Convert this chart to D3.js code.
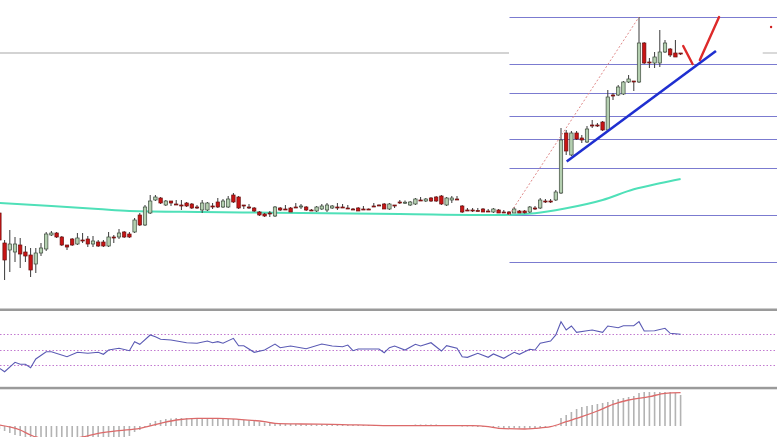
<!DOCTYPE html>
<html><head><meta charset="utf-8">
<script src="https://cdn.jsdelivr.net/npm/d3@7"></script>
<style>html,body{margin:0;padding:0;background:#fff;overflow:hidden}</style>
</head><body>
<svg id="c" width="777" height="437"></svg>
<script>
// ---- candle data (price units) ----
const opens=[300.4,294.4,293.0,292.6,294.0,292.6,292.0,290.2,292.4,293.2,
296.0,296.4,295.6,294.0,295.2,294.2,295.0,295.2,294.2,294.6,
294.6,293.8,295.6,295.6,296.6,296.2,296.6,300.0,298.0,300.4,
303.0,303.4,302.0,302.8,302.2,302.0,302.4,302.2,301.6,301.0,
301.0,301.8,302.6,301.6,301.6,304.0,303.6,302.0,301.6,301.4,
300.6,300.2,300.4,299.8,301.4,301.2,301.4,301.6,301.6,301.6,
301.0,300.8,301.2,301.0,301.4,301.6,301.6,301.4,301.2,301.4,
301.2,301.2,301.8,302.0,302.2,301.2,302.0,302.6,302.5,302.0,
302.2,303.0,302.8,303.4,303.6,303.8,302.0,303.0,303.2,301.8,
301.0,301.0,300.9,301.2,300.8,300.6,301.0,300.6,300.6,300.4,
300.8,300.8,300.6,301.4,301.4,302.8,302.8,303.0,304.4,316.4,
312.0,316.4,315.4,314.6,318.0,318.0,318.6,317.0,324.0,324.0,
324.2,326.6,326.8,326.6,334.4,330.6,330.4,330.4,332.6,333.2,
332.4,332.4];
const highs=[301.4,295.0,297.0,295.6,295.4,293.8,293.4,293.4,294.4,296.6,
296.8,296.6,295.8,294.0,295.4,296.4,296.4,295.8,295.8,295.0,
295.0,296.6,296.0,297.2,296.8,296.6,299.4,300.4,302.0,304.0,
304.0,303.6,303.0,302.8,303.0,303.0,302.6,302.4,302.0,303.0,
302.6,302.4,303.4,303.2,303.8,304.4,303.8,302.0,302.2,301.6,
300.8,300.4,300.8,301.8,301.6,302.0,301.6,302.4,302.2,301.8,
301.2,301.8,302.2,302.4,302.0,302.4,302.2,302.0,301.4,301.6,
301.8,301.3,302.4,302.1,302.4,302.4,302.0,303.0,302.9,302.8,
303.4,303.6,303.4,303.6,303.8,304.0,303.6,303.8,303.8,302.0,
301.4,301.4,301.4,301.4,301.2,301.4,301.2,301.0,300.8,301.6,
301.0,301.0,301.8,301.8,303.4,303.2,303.2,305.0,317.4,317.0,
316.8,316.8,316.0,317.8,319.0,318.4,318.8,325.0,324.4,326.0,
326.8,328.0,326.8,339.6,334.6,331.4,332.6,337.0,335.0,333.4,
335.0,332.4];
const lows=[294.4,287.0,288.6,290.6,289.4,290.6,287.6,288.4,291.8,292.8,
295.8,295.4,293.8,293.0,293.8,294.0,294.4,293.6,293.6,293.6,
293.6,293.6,294.4,295.2,295.4,295.4,296.4,297.8,297.8,300.2,
302.8,302.2,301.8,301.8,302.0,301.0,301.6,301.2,301.2,300.4,
300.8,301.2,301.4,301.4,301.4,302.4,301.2,301.2,301.2,300.6,
299.8,299.6,299.6,299.6,300.8,301.0,300.6,301.4,301.2,300.8,
300.8,300.6,301.0,300.6,301.2,301.0,301.4,301.2,301.0,300.8,
301.0,301.1,301.6,301.9,301.2,301.0,301.4,302.2,302.2,301.8,
302.0,302.8,302.6,302.6,302.6,302.0,301.8,302.4,303.0,300.4,
300.8,300.6,300.8,300.6,300.6,300.4,300.4,300.4,300.0,300.4,
300.4,300.3,300.4,301.0,301.2,302.4,302.4,302.8,304.2,312.0,
311.8,315.0,314.4,314.4,317.4,317.6,316.8,316.8,323.0,323.8,
324.0,326.4,324.8,326.4,330.2,329.4,329.4,329.6,332.4,331.6,
331.6,332.0];
const closes=[295.0,291.0,294.2,294.2,292.2,291.8,289.0,292.4,293.4,296.2,
296.4,295.6,294.0,293.6,294.0,295.4,294.9,294.2,294.8,293.8,
293.8,295.6,295.5,296.4,295.6,295.6,299.0,298.0,301.6,302.8,
303.6,302.4,302.8,302.4,302.1,301.9,301.8,301.4,301.5,302.4,
302.4,301.7,301.6,302.8,303.2,302.6,301.4,301.8,301.5,300.8,
300.0,299.8,300.2,301.6,301.0,301.1,300.6,301.5,301.8,301.0,
300.94,301.6,301.8,302.0,301.8,301.52,301.5,301.32,301.14,300.8,
301.12,301.14,301.72,301.94,301.2,302.2,301.8,302.54,302.56,302.6,
303.2,302.92,303.2,302.8,302.8,302.2,303.4,303.4,303.12,300.6,
300.92,300.92,300.84,300.6,300.72,301.2,300.4,300.5,300.2,301.2,
300.4,300.44,301.6,301.32,303.0,302.72,302.74,304.6,315.0,312.8,
316.4,315.2,315.0,317.2,317.9,317.9,317.0,323.6,323.9,325.6,
326.6,327.2,326.7,334.4,330.4,330.5,331.6,332.6,334.4,332.0,
331.6,332.2];

// moving average (teal) readings: candle index / value
const maIdx=[0,10,19,25,39,48,58,77,96,103,109,116,122,127,131];
const maVal=[302.4,301.8,301.2,300.8,300.6,300.5,300.4,300.2,300.0,300.34,301.34,303.0,305.14,306.34,307.2];

// Fibonacci retracement
const fibHigh=339.6, fibLow=300.0, fibLowIdx=98, fibHighIdx=123;
const fibRatios=[0,0.236,0.382,0.5,0.618,0.764,1,1.236];
const refLevel=332.4; // grey horizontal line

// drawn trend line and arrow
const trendIdx=[109.1,137.8], trendVal=[310.7,332.8];
const arrow1Idx=[131.5,133.3], arrow1Val=[333.8,330.2];
const arrow2Idx=[134.7,138.4], arrow2Val=[331.0,339.6];
const dotIdx=148.4, dotVal=337.6;

// RSI readings
const rsiIdx=[0,1,3,4,5,6,7,9,10,13,15,17,19,20,21,23,25,26,27,29,30,31,33,36,38,40,41,42,43,45,46,47,49,51,53,54,56,59,62,64,66,67,68,69,73,74,75,76,78,80,81,83,85,86,88,89,90,92,94,95,97,99,100,102,103,104,106,107,108,109,110,111,113,114,116,117,119,120,122,123,124,126,128,129,131];
const rsiVal=[25.3,20.8,33.2,30.5,30.5,26,37.5,47.1,47.1,40.5,46.3,45,46.3,43.7,49.3,51.6,48.4,60.3,56.8,69.1,66.8,63.4,62.5,58.9,58.2,61.2,58.9,60.3,58.2,64.7,55,55,46.3,49.3,57.2,52.4,54.6,51,57.2,54.6,53.7,55.9,48.4,50.7,50.7,45.8,52.4,54.6,49.3,56.8,54.6,58.9,48,55,51.6,40.5,39.7,45,39.7,44.1,38.4,46.3,43.7,50.3,49.3,58.2,61.2,69.1,86.6,75.7,80.9,72.6,74.7,75.7,72.6,80.9,78.7,81.3,81.3,86.6,74.3,74.7,77.9,71.3,70];
const rsiLevels=[70,50,30];

// MACD histogram (one per candle) and signal readings
const macdHist=[-0.3,-0.5,-0.7,-0.9,-1.0,-1.1,-1.3,-1.4,-1.4,-1.3,-1.3,-1.3,-1.3,-1.3,-1.3,-1.2,-1.2,-1.2,-1.2,-1.2,-1.2,-1.2,-1.1,-1.1,-1.1,-1.0,
-0.6,-0.4,-0.1,0.3,0.5,0.6,0.7,0.75,0.8,0.8,0.8,0.8,0.8,0.8,0.8,0.75,0.75,0.7,0.7,0.7,0.65,0.6,0.55,0.5,0.4,0.35,0.3,0.3,0.25,
0.2,0.2,0.2,0.15,0.15,0.15,0.15,0.15,0.15,0.15,0.15,0.1,0.1,0.1,0.1,0.1,0.1,0.1,0.1,0.1,0.1,0.1,0.1,0.1,0.1,0.15,0.15,0.15,0.15,0.15,0.1,0.1,0.1,0.1,
0.0,-0.05,-0.05,-0.1,-0.1,-0.1,-0.15,-0.15,-0.2,-0.2,-0.2,-0.25,-0.25,-0.25,-0.2,-0.2,-0.15,-0.1,0.0,
0.8,1.1,1.4,1.7,1.9,2.0,2.1,2.2,2.3,2.4,2.6,2.7,2.8,2.9,3.0,3.3,3.4,3.4,3.4,3.4,3.4,3.4,3.3,3.1];
const sigIdx=[0,4,6,7,10,13,16,19,23,27,31,34,38,42,46,51,53,58,64,75,91,94,96,101,103,106,109,112,115,118,121,125,128,131];
const sigVal=[0.1,-0.4,-0.9,-1.1,-1.3,-1.3,-1.1,-0.73,-0.47,-0.23,0.27,0.6,0.77,0.77,0.67,0.43,0.27,0.2,0.17,0.03,0.03,-0.07,-0.23,-0.3,-0.23,-0.07,0.43,0.93,1.5,2.17,2.6,2.93,3.27,3.33];

// ---- layout ----
const W=777,H=437;
const svg=d3.select("#c");
const candles=opens.map((o,i)=>({i,o,h:highs[i],l:lows[i],c:closes[i]}));
const x=d3.scaleLinear().domain([0,131]).range([-0.6,680.6]);
const y=d3.scaleLinear().domain([281.4,343]).range([308,0]);
const yr=d3.scaleLinear().domain([0,100]).range([387.5,311.5]);
const ym=d3.scaleLinear().domain([0,1]).range([426,416]);

const defs=svg.append("defs");
defs.append("clipPath").attr("id","cm").append("rect").attr("x",0).attr("y",0).attr("width",W).attr("height",308);
defs.append("clipPath").attr("id","cr").append("rect").attr("x",0).attr("y",311).attr("width",W).attr("height",76);
defs.append("clipPath").attr("id","cd").append("rect").attr("x",0).attr("y",389.5).attr("width",W).attr("height",48);

svg.append("rect").attr("width",W).attr("height",H).attr("fill","#fff");

// main panel
const gm=svg.append("g").attr("clip-path","url(#cm)");
// grey reference line
gm.append("line").attr("x1",0).attr("x2",x(fibLowIdx)).attr("y1",y(refLevel)).attr("y2",y(refLevel))
  .attr("stroke","#c4c4c4").attr("stroke-width",1.3);
gm.append("line").attr("x1",x(146.8)).attr("x2",W).attr("y1",y(refLevel)).attr("y2",y(refLevel))
  .attr("stroke","#c4c4c4").attr("stroke-width",1.3);
// fib levels
gm.selectAll("line.fib").data(fibRatios).join("line").attr("class","fib")
  .attr("x1",x(fibLowIdx)+0.5).attr("x2",W)
  .attr("y1",r=>Math.round(y(fibHigh-r*(fibHigh-fibLow)))+0.5)
  .attr("y2",r=>Math.round(y(fibHigh-r*(fibHigh-fibLow)))+0.5)
  .attr("stroke","#7b7bd0").attr("stroke-width",1.2);
// MA
gm.append("path").datum(maIdx.map((d,k)=>[d,maVal[k]]))
  .attr("d",d3.line().x(d=>x(d[0])).y(d=>y(d[1])).curve(d3.curveMonotoneX))
  .attr("fill","none").attr("stroke","#4fe0b8").attr("stroke-width",2);
// candles
const bw=3.4;
const cg=gm.selectAll("g.cd").data(candles).join("g").attr("class","cd");
cg.append("line").attr("x1",d=>x(d.i)).attr("x2",d=>x(d.i))
  .attr("y1",d=>y(d.h)).attr("y2",d=>y(d.l)).attr("stroke","#3a3a3a").attr("stroke-width",1);
cg.append("rect").attr("x",d=>x(d.i)-bw/2).attr("width",bw)
  .attr("y",d=>y(Math.max(d.o,d.c)))
  .attr("height",d=>Math.max(1,Math.abs(y(d.o)-y(d.c))))
  .attr("fill",d=>d.c>=d.o?"#b4cfb0":"#c81414")
  .attr("stroke",d=>d.c>=d.o?"#3c4a3c":"#6a1010").attr("stroke-width",0.7);
// fib diagonal
gm.append("line").attr("x1",x(fibLowIdx)).attr("y1",y(fibLow)).attr("x2",x(fibHighIdx)).attr("y2",y(fibHigh))
  .attr("stroke","#e08a8a").attr("stroke-width",1).attr("stroke-dasharray","2,2");
// blue trend line
gm.append("line").attr("x1",x(trendIdx[0])).attr("y1",y(trendVal[0])).attr("x2",x(trendIdx[1])).attr("y2",y(trendVal[1]))
  .attr("stroke","#1f2fd0").attr("stroke-width",2.6);
// red arrow
[[arrow1Idx,arrow1Val],[arrow2Idx,arrow2Val]].forEach(([a,b])=>{
  gm.append("line").attr("x1",x(a[0])).attr("y1",y(b[0])).attr("x2",x(a[1])).attr("y2",y(b[1]))
    .attr("stroke","#dd2a2a").attr("stroke-width",2.4).attr("stroke-linecap","round");
});
gm.append("circle").attr("cx",x(dotIdx)).attr("cy",y(dotVal)).attr("r",1.2).attr("fill","#d02020");

// separators
svg.append("rect").attr("x",0).attr("y",308.5).attr("width",W).attr("height",2.5).attr("fill","#9a9a9a");
svg.append("rect").attr("x",0).attr("y",386.8).attr("width",W).attr("height",2.5).attr("fill","#9a9a9a");

// RSI panel
const gr=svg.append("g").attr("clip-path","url(#cr)");
gr.selectAll("line.lv").data(rsiLevels).join("line").attr("class","lv")
  .attr("x1",0).attr("x2",W).attr("y1",d=>Math.round(yr(d))+0.5).attr("y2",d=>Math.round(yr(d))+0.5)
  .attr("stroke","#c27ad0").attr("stroke-width",1).attr("stroke-dasharray","1.5,2");
gr.append("path").datum(rsiIdx.map((d,k)=>[d,rsiVal[k]]))
  .attr("d",d3.line().x(d=>x(d[0])).y(d=>yr(d[1])))
  .attr("fill","none").attr("stroke","#5a5ab4").attr("stroke-width",1.1);

// MACD panel
const gd=svg.append("g").attr("clip-path","url(#cd)");
gd.selectAll("line.hb").data(macdHist).join("line").attr("class","hb")
  .attr("x1",(d,i)=>x(i)).attr("x2",(d,i)=>x(i))
  .attr("y1",ym(0)).attr("y2",d=>ym(d)===ym(0)?ym(0)+0.5:ym(d))
  .attr("stroke","#b3b3b3").attr("stroke-width",1.6);
gd.append("path").datum(sigIdx.map((d,k)=>[d,sigVal[k]]))
  .attr("d",d3.line().x(d=>x(d[0])).y(d=>ym(d[1])).curve(d3.curveMonotoneX))
  .attr("fill","none").attr("stroke","#dc6a6a").attr("stroke-width",1.3);
</script>
</body></html>
